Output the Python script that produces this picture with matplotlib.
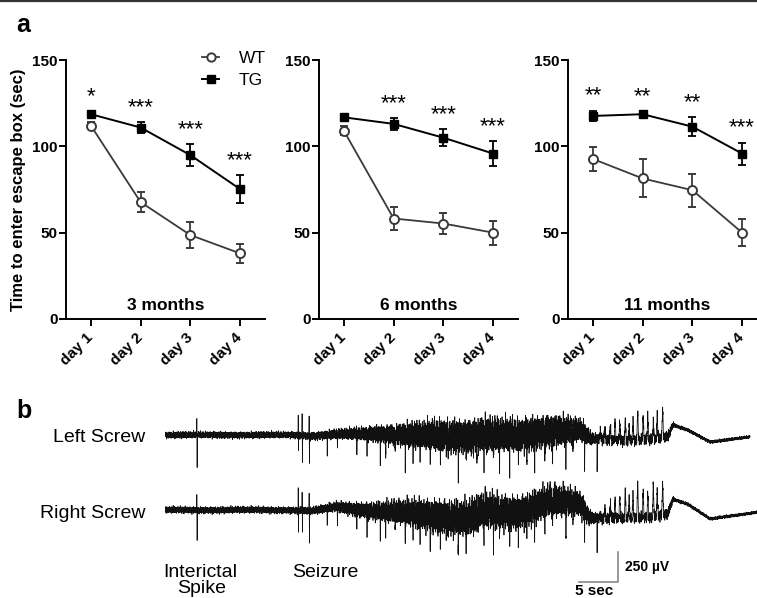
import numpy as np
import matplotlib.pyplot as plt
from matplotlib.lines import Line2D

plt.rcParams['font.family'] = ['Liberation Sans', 'DejaVu Sans']

W, H = 757, 598  # output size in pixels


def fx(x):
    return x / W


def fy(y):
    return 1 - y / H


# ---------------- panel a: escape latency (sec) ----------------
days = ['day 1', 'day 2', 'day 3', 'day 4']
ages = ['3 months', '6 months', '11 months']

wt_mean = [[112, 67.7, 48.6, 38], [109, 58.2, 55.3, 50], [92.7, 81.4, 74.6, 50]]
wt_err = [[2, 6, 7.5, 5.5], [2.5, 6.4, 6.3, 7], [6.9, 11, 9.6, 7.7]]
tg_mean = [[118.6, 110.9, 94.9, 75.2], [116.8, 113, 105, 95.8], [117.6, 118.6, 111.4, 95.8]]
tg_err = [[1.5, 3, 6.5, 8], [1.5, 3.5, 5, 7], [3, 1.5, 5.4, 6.4]]
stars = [['*', '***', '***', '***'], ['', '***', '***', '***'], ['**', '**', '**', '***']]

# ---------------- panel b: EEG (s, µV) ----------------
drift_t = [0, 16, 19, 22, 30, 35.3, 39.1, 40.4, 45.5, 49.4, 53.2, 54.5, 58, 62, 64.5, 65.1, 67, 69.9, 76]
left_drift = [0, 0, -8, 8, 8, -12, -12, 12, -12, 42, 42, -30, -45, -40, -17, 83, 42, -58, -8]
right_drift = [0, 0, -8, 25, -25, -45, -80, -17, -10, 70, 55, -60, -70, -65, -25, 92, 50, -75, -17]

env_t = [0, 16, 21, 26, 30, 35, 40, 45, 50, 53.5, 55, 64.5, 65.5, 76]
left_env = [28, 28, 38, 60, 95, 135, 150, 140, 140, 95, 45, 45, 15, 12]
right_env = [28, 28, 38, 70, 105, 145, 160, 140, 140, 105, 45, 45, 15, 12]

# interictal spike + seizure onset spikes (biphasic)
sharp_t = [4.1, 17.1, 17.6, 18.5]
left_sharp_up = [150, 175, 175, 150]
left_sharp_down = [258, 142, 225, 225]
right_sharp_up = [160, 192, 183, 150]
right_sharp_down = [275, 208, 200, 250]

# downward spikes during the seizure
down_t = [20.8, 22.1, 24.6, 25.9, 27.6, 28.3, 29.5, 30.8, 31.8, 32.7, 34.0, 35.3, 36.3, 37.6,
          38.6, 40.0, 40.9, 42.1, 42.9, 44.2, 45.3, 46.4, 47.4, 48.7, 49.7, 51.4, 52.3, 53.8, 55.4]
left_down = [142, 142, 167, 225, 208, 167, 192, 225, 208, 250, 225, 250, 208, 275,
             233, 250, 225, 275, 258, 292, 250, 267, 292, 233, 275, 308, 258, 292, 292]
right_down = [133, 142, 175, 250, 208, 183, 208, 233, 208, 233, 217, 233, 200, 233,
              217, 250, 233, 283, 258, 300, 267, 283, 317, 250, 300, 267, 233, 292, 275]

# rhythmic spike-waves at the end of the seizure
rhythm_t = [55.8, 56.4, 57.1, 57.7, 58.3, 59.0, 59.5, 60.0, 60.6, 61.3, 61.9, 62.6, 63.1, 63.8]
left_rhythm = [67, 100, 125, 183, 167, 183, 108, 167, 250, 208, 225, 142, 208, 267]
right_rhythm = [17, 83, 125, 167, 192, 225, 167, 183, 292, 250, 225, 267, 225, 267]

fs = 250


def tri(t, t0, width):
    return np.clip(1 - np.abs(t - t0) / (width / 2), 0, None)


def eeg(t_end, drift, env, sh_up, sh_down, down, rhythm, phase):
    t = np.arange(0, t_end, 1 / fs)
    carrier = (np.sin(2 * np.pi * 9.7 * t + phase)
               + 0.7 * np.sin(2 * np.pi * 14.3 * t + 1 + phase)
               + 0.5 * np.sin(2 * np.pi * 23.9 * t + 2)
               + 0.5 * np.sin(2 * np.pi * 37.1 * t + 0.5 + 2 * phase)
               + 0.4 * np.sin(2 * np.pi * 53.3 * t + 3 * phase)
               + 0.3 * np.sin(2 * np.pi * 71.9 * t + 1.7)
               + 0.3 * np.sin(2 * np.pi * 3.1 * t + phase)) / 2.4
    y = np.interp(t, drift_t, drift) + np.interp(t, env_t, env) * carrier
    for t0, u, d in zip(sharp_t, sh_up, sh_down):
        y += u * tri(t, t0 - 0.02, 0.05) - d * tri(t, t0 + 0.02, 0.05)
    for t0, d in zip(down_t, down):
        y -= d * tri(t, t0, 0.06)
    for t0, h in zip(rhythm_t, rhythm):
        y += h * tri(t, t0, 0.25)
    return t, y


fig = plt.figure(figsize=(W / 100, H / 100), dpi=100)

wt_color = '#3a3a3a'
x = np.arange(1, 5)
for i, left in enumerate([66, 319, 568]):
    ax = fig.add_axes([fx(left), fy(319), 199 / W, 259 / H])
    ax.errorbar(x, wt_mean[i], yerr=wt_err[i], color=wt_color, lw=1.3, marker='o',
                ms=6.5, mfc='white', mec=wt_color, mew=1.4, capsize=3, capthick=1.3,
                elinewidth=1.3, zorder=3)
    ax.errorbar(x, tg_mean[i], yerr=tg_err[i], color='black', lw=1.4, marker='s',
                ms=6, mfc='black', mec='black', capsize=3, capthick=1.3,
                elinewidth=1.3, zorder=4)
    for d in range(4):
        if stars[i][d]:
            ax.annotate(stars[i][d], (x[d], tg_mean[i][d] + tg_err[i][d] + 12.5),
                        xytext=(0, -9), textcoords='offset points',
                        ha='center', va='baseline', fontsize=16)
    ax.text(2.5, 5, ages[i], ha='center', va='baseline', fontsize=12.5, fontweight='bold')
    ax.set_xlim(0.5, 4.5)
    ax.set_ylim(0, 150)
    ax.set_yticks([0, 50, 100, 150])
    ax.set_xticks(x)
    ax.set_xticklabels(days, rotation=45, ha='right', va='center',
                       rotation_mode='anchor', fontsize=11, fontweight='bold')
    for lab in ax.get_yticklabels():
        lab.set_fontweight('bold')
        lab.set_fontsize(11)
    ax.tick_params(axis='y', length=5, width=1.4, pad=1)
    ax.tick_params(axis='x', length=5, width=1.4, pad=7)
    for s in ['top', 'right']:
        ax.spines[s].set_visible(False)
    for s in ['left', 'bottom']:
        ax.spines[s].set_linewidth(1.4)
    ax.patch.set_alpha(0)
    if i == 0:
        ax.set_ylabel('Time to enter escape box (sec)', fontsize=12, fontweight='bold')
        ax.yaxis.set_label_coords(-0.2, 0.5)
        h_wt = Line2D([], [], color=wt_color, lw=1.3, marker='o', ms=6, mfc='white',
                      mec=wt_color, mew=1.4)
        h_tg = Line2D([], [], color='black', lw=1.4, marker='s', ms=5.5, mfc='black')
        ax.legend([h_wt, h_tg], ['WT', 'TG'], loc='upper left',
                  bbox_to_anchor=(fx(202), fy(51)), bbox_transform=fig.transFigure,
                  frameon=False, fontsize=12.5, handlelength=1.0, handletextpad=1.1,
                  labelspacing=0.4, borderpad=0, borderaxespad=0)

# ---------------- panel b ----------------
axb = fig.add_axes([fx(165), 0, (W - 165) / W, (H - 380) / H])
axb.set_xlim(0, (W - 165) / 7.8)
axb.set_ylim(-1358, 458)
axb.axis('off')

right_offset = -625
t_l, y_l = eeg(75.0, left_drift, left_env, left_sharp_up, left_sharp_down,
               left_down, left_rhythm, 0.0)
t_r, y_r = eeg(76.0, right_drift, right_env, right_sharp_up, right_sharp_down,
               right_down, right_rhythm, 1.3)
axb.plot(t_l, y_l, color='#111111', lw=0.55)
axb.plot(t_r, y_r + right_offset, color='#111111', lw=0.55)

# scale bar: 5 sec, 250 µV
sb_t, sb_v = 58.1, -1225
axb.plot([sb_t - 5, sb_t, sb_t], [sb_v, sb_v, sb_v + 250], color='#888888', lw=1.2,
         clip_on=False)

fig.text(fx(145), fy(437), 'Left Screw', ha='right', va='center', fontsize=14)
fig.text(fx(145), fy(514), 'Right Screw', ha='right', va='center', fontsize=14)
fig.text(fx(163), fy(577), 'Interictal', ha='left', va='baseline', fontsize=14)
fig.text(fx(202), fy(593), 'Spike', ha='center', va='baseline', fontsize=14)
fig.text(fx(292), fy(577), 'Seizure', ha='left', va='baseline', fontsize=14)
fig.text(fx(625), fy(567), '250 µV', ha='left', va='center', fontsize=10, fontweight='bold')
fig.text(fx(594), fy(591), '5 sec', ha='center', va='center', fontsize=11, fontweight='bold')

# panel letters and top rule
fig.text(fx(16), fy(32), 'a', ha='left', va='baseline', fontsize=18, fontweight='bold')
fig.text(fx(16), fy(418), 'b', ha='left', va='baseline', fontsize=18, fontweight='bold')
fig.add_artist(Line2D([0, 1], [fy(0.7), fy(0.7)], transform=fig.transFigure,
                      color='#333333', lw=1.6))

fig.savefig('out.png', dpi=100)
